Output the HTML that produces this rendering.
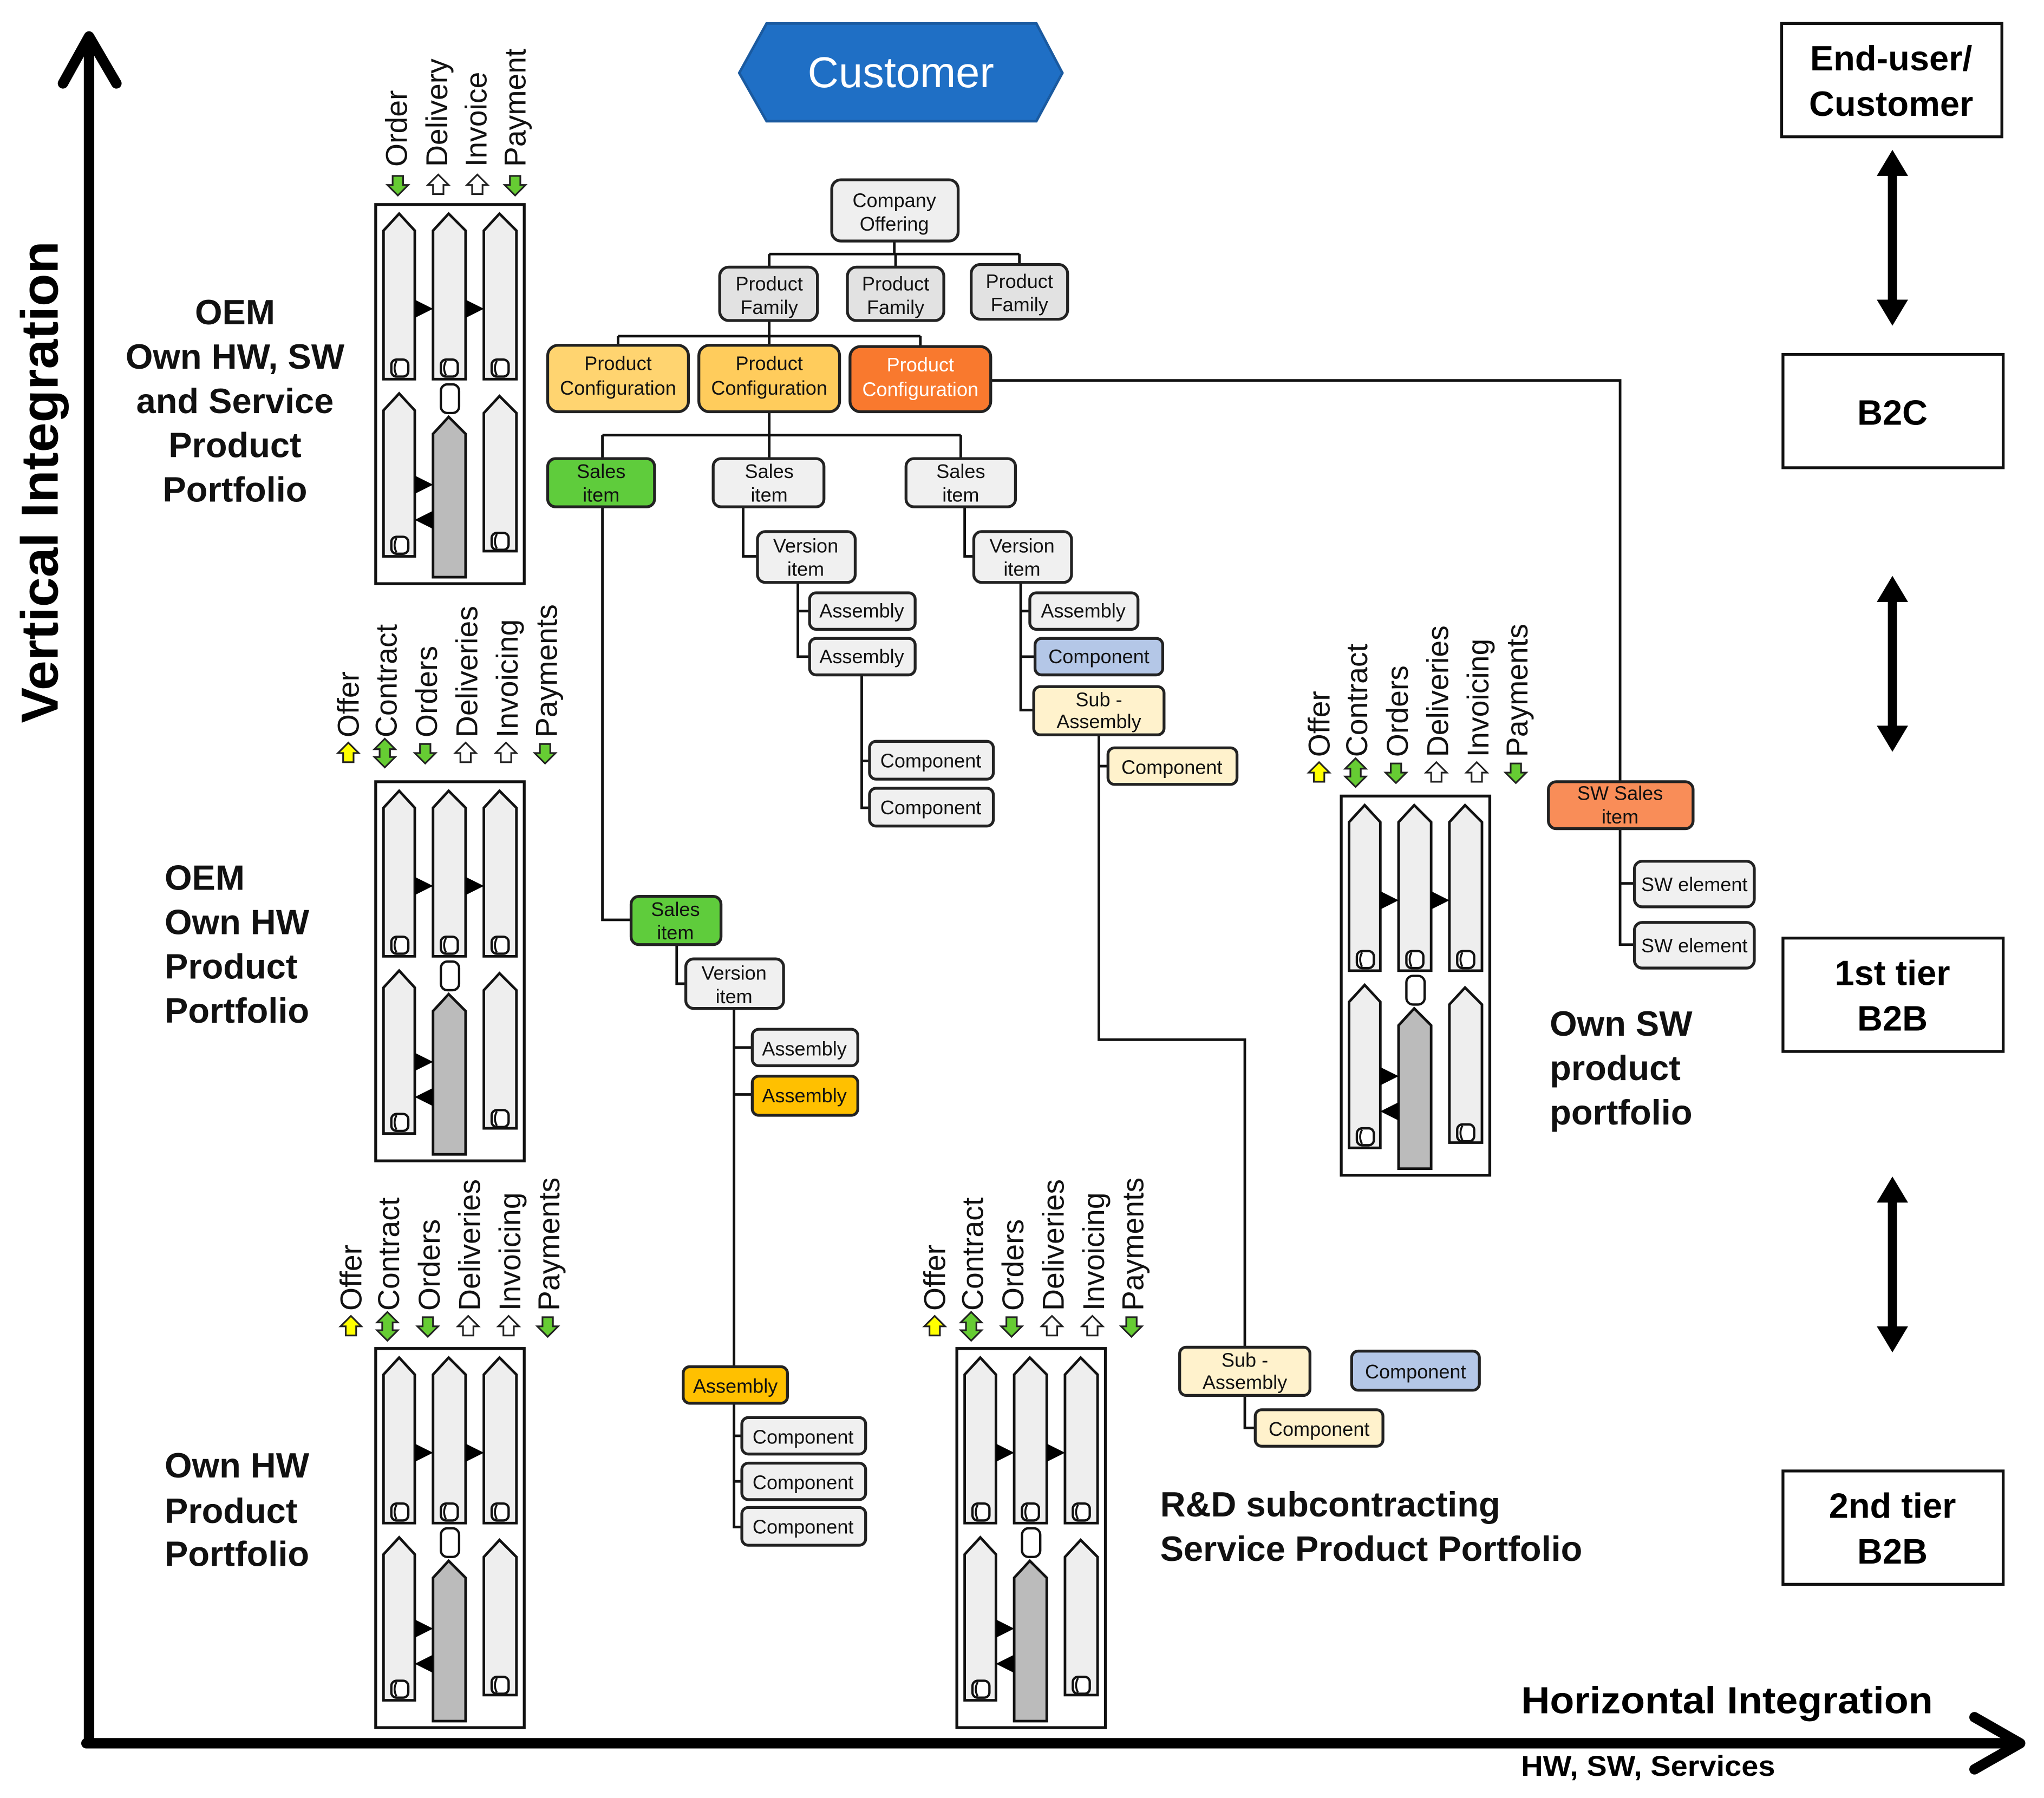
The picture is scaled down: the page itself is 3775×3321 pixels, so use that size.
<!DOCTYPE html>
<html><head><meta charset="utf-8"><style>
html,body{margin:0;padding:0;background:#fff}
svg{display:block}
text{font-family:"Liberation Sans",Arial,sans-serif}
.n{stroke:#222;stroke-width:2.2}
.t{font-size:15px;fill:#111;text-anchor:middle}
.r{font-size:23px;fill:#111}
.b{font-weight:bold;font-size:27px;fill:#111}
.ln{stroke:#111;stroke-width:2;fill:none}
</style></head><body>
<svg width="3775" height="3321" viewBox="0 0 1568 1380" xmlns="http://www.w3.org/2000/svg">
<defs>
<g id="cyl"><rect x="0" y="0" width="13" height="13" rx="4" fill="#fff" stroke="#111" stroke-width="1.8"/><path d="M4 1 Q1 6.5 4 12" stroke="#111" stroke-width="1.5" fill="none"/></g>
<g id="db">
<rect x="0" y="0" width="114" height="291" fill="#fff" stroke="#111" stroke-width="2.2"/>
<g fill="#eee" stroke="#111" stroke-width="2">
<polygon points="6,20 18,7 30,20 30,134 6,134"/>
<polygon points="44,20 56,7 69,20 69,134 44,134"/>
<polygon points="83,20 95,7 108,20 108,134 83,134"/>
<polygon points="6,158 18,145 30,158 30,270 6,270"/>
<polygon points="83,160 95,147 108,160 108,266 83,266"/>
<polygon points="44,176 56,163 69,176 69,286 44,286" fill="#bbb"/>
</g>
<use href="#cyl" x="12" y="119"/><use href="#cyl" x="50" y="119"/><use href="#cyl" x="89" y="119"/>
<use href="#cyl" x="12" y="255"/><use href="#cyl" x="89" y="252"/>
<rect x="50" y="138" width="14" height="22" rx="5" fill="#fff" stroke="#111" stroke-width="1.8"/>
<g fill="#000"><polygon points="30,73 44,80 30,87"/><polygon points="69,73 83,80 69,87"/>
<polygon points="30,208 44,215 30,222"/><polygon points="44,235 30,242 44,249"/></g>
</g>
<polygon id="dn" points="-4,-7 4,-7 4,0 8,0 0,8 -8,0 -4,0" fill="#6c3" stroke="#222" stroke-width="1.3"/>
<polygon id="up" points="-4,7 4,7 4,0 8,0 0,-8 -8,0 -4,0" fill="#fff" stroke="#222" stroke-width="1.3"/>
<polygon id="yu" points="-4,7 4,7 4,0 8,0 0,-8 -8,0 -4,0" fill="#ff0" stroke="#222" stroke-width="1.3"/>
<polygon id="bo" points="-4,-3 -8,-3 0,-11 8,-3 4,-3 4,3 8,3 0,11 -8,3 -4,3" fill="#6c3" stroke="#222" stroke-width="1.3"/>
<g id="dbl"><line x1="0" y1="15" x2="0" y2="120" stroke="#000" stroke-width="7"/><polygon points="-12,20 0,0 12,20" fill="#000"/><polygon points="-12,115 0,135 12,115" fill="#000"/></g>
</defs>

<!-- axes -->
<g stroke="#000" stroke-width="8" fill="none" stroke-linecap="round" stroke-linejoin="round">
<line x1="68" y1="1338" x2="68" y2="30"/>
<polyline points="48,64 68,28 89,64"/>
<line x1="66" y1="1338" x2="1545" y2="1338"/>
<polyline points="1515,1318 1550,1338 1515,1358"/>
</g>
<text transform="translate(44,555) rotate(-90)" style="font-size:40px;font-weight:bold" textLength="370" lengthAdjust="spacingAndGlyphs">Vertical Integration</text>
<text x="1167" y="1315" style="font-size:29px;font-weight:bold" textLength="316" lengthAdjust="spacingAndGlyphs">Horizontal Integration</text>
<text x="1167" y="1363" style="font-size:22px;font-weight:bold" textLength="195" lengthAdjust="spacingAndGlyphs">HW, SW, Services</text>

<!-- customer -->
<polygon points="588,18 795,18 815,56 795,93 588,93 567,56" fill="#1f6fc5" stroke="#1a5aa0" stroke-width="2"/>
<text x="691" y="67" style="font-size:33px;fill:#fff" text-anchor="middle">Customer</text>

<!-- right boxes -->
<g fill="#fff" stroke="#111" stroke-width="2.2">
<rect x="1367" y="18" width="169" height="87"/><rect x="1368" y="272" width="169" height="87"/>
<rect x="1368" y="720" width="169" height="87"/><rect x="1368" y="1129" width="169" height="87"/>
</g>
<g style="font-size:27px;font-weight:bold" text-anchor="middle">
<text x="1451" y="54">End-user/</text><text x="1451" y="89">Customer</text>
<text x="1452" y="326">B2C</text>
<text x="1452" y="756">1st tier</text><text x="1452" y="791">B2B</text>
<text x="1452" y="1165">2nd tier</text><text x="1452" y="1200">B2B</text>
</g>
<use href="#dbl" x="1452" y="115"/><use href="#dbl" x="1452" y="442"/><use href="#dbl" x="1452" y="903"/>

<!-- doc boxes -->
<use href="#db" x="288" y="157"/><use href="#db" x="288" y="600"/><use href="#db" x="288" y="1035"/>
<use href="#db" x="734" y="1035"/><use href="#db" x="1029" y="611"/>

<!-- labels over box1 -->
<use href="#dn" x="305" y="142"/><use href="#up" x="336" y="142"/><use href="#up" x="366" y="142"/><use href="#dn" x="395" y="142"/>
<text class="r" transform="translate(312,128) rotate(-90)">Order</text>
<text class="r" transform="translate(343,128) rotate(-90)">Delivery</text>
<text class="r" transform="translate(373,128) rotate(-90)">Invoice</text>
<text class="r" transform="translate(403,128) rotate(-90)">Payment</text>

<!-- six-label sets -->
<g id="six1">
<use href="#yu" x="267" y="578"/><use href="#bo" x="295" y="578"/><use href="#dn" x="326" y="578"/><use href="#up" x="357" y="578"/><use href="#up" x="388" y="578"/><use href="#dn" x="418" y="578"/>
<text class="r" transform="translate(275,566) rotate(-90)">Offer</text>
<text class="r" transform="translate(304,566) rotate(-90)">Contract</text>
<text class="r" transform="translate(335,566) rotate(-90)">Orders</text>
<text class="r" transform="translate(366,566) rotate(-90)">Deliveries</text>
<text class="r" transform="translate(397,566) rotate(-90)">Invoicing</text>
<text class="r" transform="translate(427,566) rotate(-90)">Payments</text>
</g>
<use href="#six1" x="2" y="440"/>
<use href="#six1" x="450" y="440"/>
<use href="#six1" x="745" y="15"/>

<!-- section labels -->
<g class="b" text-anchor="middle">
<text x="180" y="249">OEM</text><text x="180" y="283">Own HW, SW</text><text x="180" y="317">and Service</text><text x="180" y="351">Product</text><text x="180" y="385">Portfolio</text>
</g>
<g class="b">
<text x="126" y="683">OEM</text><text x="126" y="717">Own HW</text><text x="126" y="751">Product</text><text x="126" y="785">Portfolio</text>
<text x="126" y="1134">Own HW</text><text x="126" y="1169">Product</text><text x="126" y="1202">Portfolio</text>
<text x="1189" y="795">Own SW</text><text x="1189" y="829">product</text><text x="1189" y="863">portfolio</text>
<text x="890" y="1164">R&amp;D subcontracting</text><text x="890" y="1198">Service Product Portfolio</text>
</g>

<!-- connectors -->
<g class="ln">
<path d="M686 185V195M590 195H782M590 195V205M687 195V205M782 195V205"/>
<path d="M590 246V258M474 258H706M474 258V265M590 258V265M706 258V265"/>
<path d="M760 292H1243V600"/>
<path d="M590 316V334M462 334H737M462 334V352M590 334V352M737 334V352"/>
<path d="M570 389V427H581M612 447V504H621M612 469H621M661 518V620H667M661 584H667"/>
<path d="M740 389V427H747M783 447V545H793M783 469H790M783 504H794"/>
<path d="M843 564V798H955V1052M843 588H850M955 1071V1096H963"/>
<path d="M462 389V706H484M519 725V755H526M563 774V1172H569M563 804H577M563 840H577M563 1102H569M563 1137H569"/>
<path d="M1243 636V725H1254M1243 678H1254"/>
</g>

<!-- nodes -->
<g class="n">
<rect x="638" y="138" width="97" height="47" rx="7" fill="#efefef"/>
<rect x="552" y="205" width="75" height="41" rx="7" fill="#e2e2e2"/>
<rect x="650" y="205" width="74" height="41" rx="7" fill="#e2e2e2"/>
<rect x="745" y="203" width="74" height="42" rx="7" fill="#e2e2e2"/>
<rect x="420" y="265" width="108" height="51" rx="8" fill="#ffd470"/>
<rect x="536" y="265" width="108" height="51" rx="8" fill="#ffcc5c"/>
<rect x="652" y="266" width="108" height="50" rx="8" fill="#f9792e"/>
<rect x="420" y="352" width="82" height="37" rx="6" fill="#5fcc3c"/>
<rect x="547" y="352" width="85" height="37" rx="6" fill="#f0f0f0"/>
<rect x="695" y="352" width="84" height="37" rx="6" fill="#f0f0f0"/>
<rect x="581" y="408" width="75" height="39" rx="6" fill="#f0f0f0"/>
<rect x="747" y="408" width="75" height="39" rx="6" fill="#f0f0f0"/>
<rect x="621" y="455" width="81" height="28" rx="5" fill="#f0f0f0"/>
<rect x="621" y="490" width="81" height="28" rx="5" fill="#f0f0f0"/>
<rect x="667" y="569" width="95" height="29" rx="5" fill="#f0f0f0"/>
<rect x="667" y="605" width="95" height="29" rx="5" fill="#f0f0f0"/>
<rect x="790" y="455" width="83" height="28" rx="5" fill="#f0f0f0"/>
<rect x="794" y="490" width="98" height="28" rx="5" fill="#b4c7e7"/>
<rect x="793" y="527" width="100" height="37" rx="5" fill="#fff2cc"/>
<rect x="850" y="574" width="99" height="28" rx="5" fill="#fff2cc"/>
<rect x="905" y="1034" width="100" height="37" rx="5" fill="#fff2cc"/>
<rect x="963" y="1082" width="98" height="28" rx="5" fill="#fff2cc"/>
<rect x="1037" y="1037" width="98" height="30" rx="5" fill="#b4c7e7"/>
<rect x="484" y="688" width="69" height="37" rx="6" fill="#5fcc3c"/>
<rect x="526" y="736" width="75" height="38" rx="6" fill="#f0f0f0"/>
<rect x="577" y="790" width="81" height="28" rx="5" fill="#f0f0f0"/>
<rect x="577" y="826" width="81" height="30" rx="5" fill="#ffc000"/>
<rect x="524" y="1049" width="80" height="28" rx="5" fill="#ffc000"/>
<rect x="569" y="1088" width="95" height="28" rx="5" fill="#f0f0f0"/>
<rect x="569" y="1123" width="95" height="28" rx="5" fill="#f0f0f0"/>
<rect x="569" y="1157" width="95" height="29" rx="5" fill="#f0f0f0"/>
<rect x="1188" y="600" width="111" height="36" rx="6" fill="#f98d58"/>
<rect x="1254" y="661" width="92" height="35" rx="6" fill="#f0f0f0"/>
<rect x="1254" y="708" width="92" height="35" rx="6" fill="#f0f0f0"/>
</g>
<g class="t">
<text x="686" y="159">Company</text><text x="686" y="177">Offering</text>
<text x="590" y="223">Product</text><text x="590" y="241">Family</text>
<text x="687" y="223">Product</text><text x="687" y="241">Family</text>
<text x="782" y="221">Product</text><text x="782" y="239">Family</text>
<text x="474" y="284">Product</text><text x="474" y="303">Configuration</text>
<text x="590" y="284">Product</text><text x="590" y="303">Configuration</text>
<text x="706" y="285" style="fill:#fff">Product</text><text x="706" y="304" style="fill:#fff">Configuration</text>
<text x="461" y="367">Sales</text><text x="461" y="385">item</text>
<text x="590" y="367">Sales</text><text x="590" y="385">item</text>
<text x="737" y="367">Sales</text><text x="737" y="385">item</text>
<text x="618" y="424">Version</text><text x="618" y="442">item</text>
<text x="784" y="424">Version</text><text x="784" y="442">item</text>
<text x="661" y="474">Assembly</text><text x="661" y="509">Assembly</text>
<text x="714" y="589">Component</text><text x="714" y="625">Component</text>
<text x="831" y="474">Assembly</text><text x="843" y="509">Component</text>
<text x="843" y="542">Sub -</text><text x="843" y="559">Assembly</text>
<text x="899" y="594">Component</text>
<text x="955" y="1049">Sub -</text><text x="955" y="1066">Assembly</text>
<text x="1012" y="1102">Component</text><text x="1086" y="1058">Component</text>
<text x="518" y="703">Sales</text><text x="518" y="721">item</text>
<text x="563" y="752">Version</text><text x="563" y="770">item</text>
<text x="617" y="810">Assembly</text><text x="617" y="846">Assembly</text>
<text x="564" y="1069">Assembly</text>
<text x="616" y="1108">Component</text><text x="616" y="1143">Component</text><text x="616" y="1177">Component</text>
<text x="1243" y="614">SW Sales</text><text x="1243" y="632">item</text>
<text x="1300" y="684">SW element</text><text x="1300" y="731">SW element</text>
</g>
</svg>
</body></html>
